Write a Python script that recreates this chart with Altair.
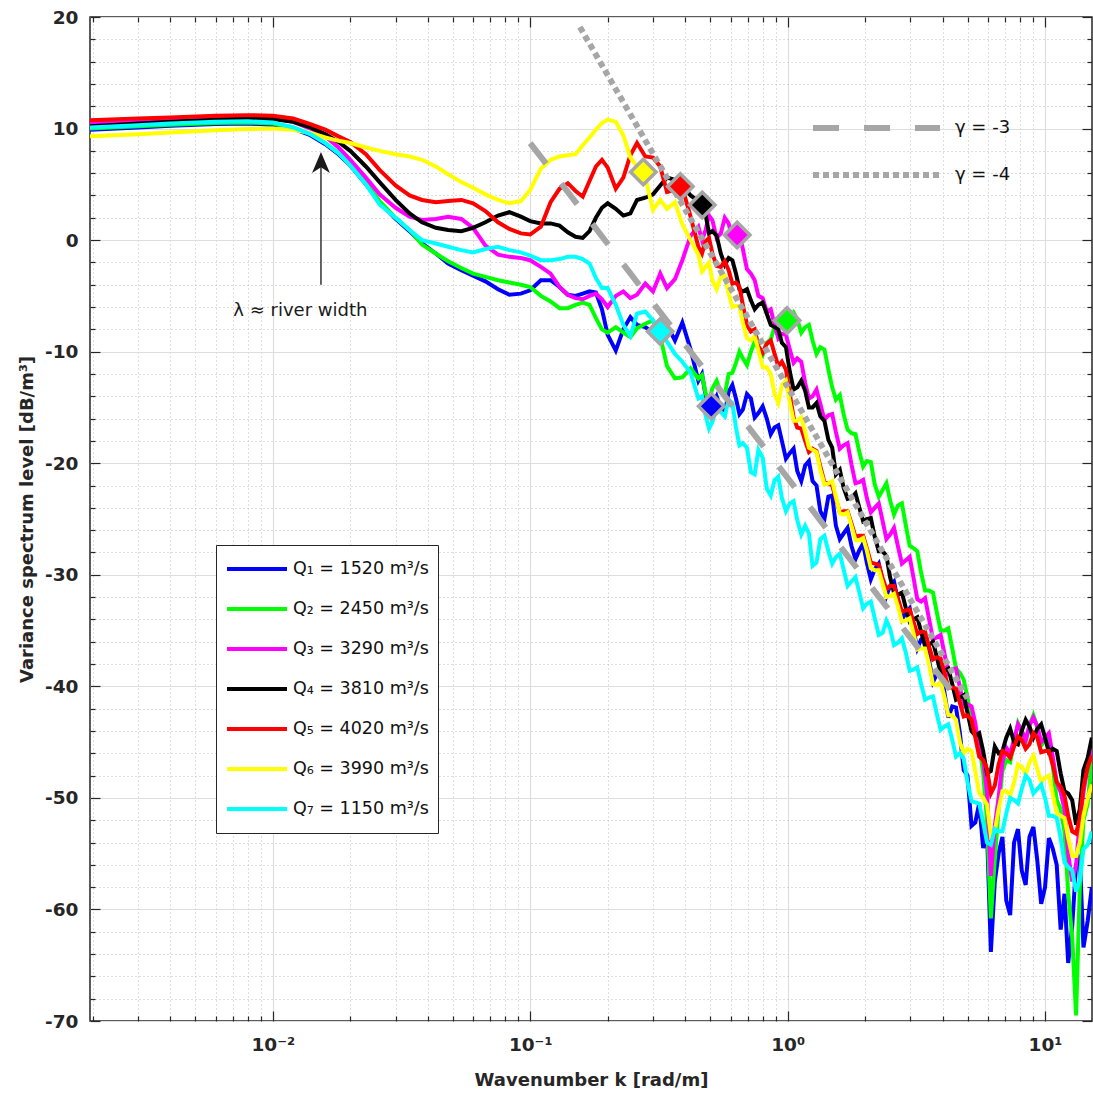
import altair as alt
import pandas as pd

FONT = "DejaVu Sans"

# ---------------- data ----------------
k_values = [
    0.00195, 0.003, 0.004, 0.006, 0.008, 0.01, 0.012, 0.014, 0.016, 0.018,
    0.02, 0.023, 0.026, 0.03, 0.034, 0.038, 0.043, 0.048, 0.054, 0.06,
    0.067, 0.075, 0.083, 0.092, 0.1, 0.11, 0.12, 0.13, 0.14, 0.15,
    0.16, 0.17, 0.18, 0.19,
    0.2, 0.215, 0.23, 0.245, 0.26, 0.28, 0.30, 0.32,
    0.34, 0.365, 0.39, 0.42, 0.45, 0.48, 0.51, 0.55,
    0.59, 0.63, 0.67, 0.72, 0.77, 0.83, 0.89, 0.95,
    1.02, 1.09, 1.17, 1.25, 1.34, 1.44, 1.54, 1.65,
    1.77, 1.90, 2.03, 2.18, 2.34, 2.5, 2.68, 2.88,
    3.08, 3.3, 3.54, 3.8, 4.07, 4.36, 4.67, 5.0,
    5.36, 5.75, 6.16, 6.6, 7.07, 7.58, 8.12, 8.7,
    9.33, 10.0, 10.7, 11.5, 12.3, 13.2, 14.1, 15.2,
]
# extra in-between wavenumbers for the noisy high-k part
k_fine = [
    0.465, 0.495, 0.53, 0.57, 0.61, 0.65, 0.695, 0.745, 0.80, 0.86,
    0.92, 0.985, 1.055, 1.13, 1.21, 1.295, 1.39, 1.49, 1.595, 1.71,
    1.835, 1.965, 2.105, 2.26, 2.42, 2.59, 2.78, 2.98, 3.19, 3.42,
    3.67, 3.93, 4.21, 4.51, 4.83, 5.18, 5.55, 5.95, 6.38, 6.83,
    7.32, 7.85, 8.41, 9.01, 9.66, 10.35, 11.1, 11.9, 12.75, 13.65,
    14.65,
]

series_names = [
    "Q\u2081 = 1520 m\u00b3/s",
    "Q\u2082 = 2450 m\u00b3/s",
    "Q\u2083 = 3290 m\u00b3/s",
    "Q\u2084 = 3810 m\u00b3/s",
    "Q\u2085 = 4020 m\u00b3/s",
    "Q\u2086 = 3990 m\u00b3/s",
    "Q\u2087 = 1150 m\u00b3/s",
]
series_colors = ["#0000ff", "#00ff00", "#ff00ff", "#000000", "#ff0000", "#ffff00", "#00ffff"]

q1_db = [
    9.9, 10.1, 10.25, 10.4, 10.45, 10.35, 10.0, 9.4, 8.6, 7.7,
    6.7, 5.0, 3.4, 1.9, 0.8, -0.3, -1.2, -2.1, -2.7, -3.2,
    -3.7, -4.4, -4.9, -4.8, -4.5, -3.6, -3.6, -4.2, -4.9, -5.0,
    -4.8, -4.6, -4.7, -6.2,
    -8.5, -9.9, -8.0, -6.9, -7.6, -7.8, -8.3, -7.8,
    -7.6, -9.0, -7.4, -9.8, -12.6, -13.9, -14.8, -15.1,
    -13.6, -14.2, -15.2, -14.2, -15.5, -16.0, -16.8, -18.0,
    -19.1, -20.7, -20.2, -21.6, -24.3, -23.0, -25.6, -26.3,
    -27.4, -27.8, -28.9, -29.5, -30.6, -31.0, -32.3, -33.4,
    -34.9, -35.8, -37.6, -38.9, -40.6, -41.8, -44.2, -48.0,
    -52.2, -54.5, -63.8, -55.0, -59.2, -54.0, -56.5, -53.5,
    -55.6, -58.0, -54.5, -61.8, -64.8, -56.0, -63.4, -58.0,
]
q1_fine = [
    -12.0, -15.3, -14.0, -15.6, -13.0, -15.6, -13.8, -15.9, -14.9, -17.4,
    -16.6, -19.6, -18.7, -21.6, -19.8, -22.0, -25.0, -22.9, -26.8, -25.8,
    -28.6, -27.2, -30.4, -29.0, -31.9, -30.6, -34.0, -33.0, -36.6, -35.5,
    -39.6, -38.6, -42.8, -41.9, -47.5, -52.5, -50.5, -53.0, -57.5, -53.5,
    -60.5, -52.8, -57.8, -52.6, -59.5, -53.6, -56.0, -58.6, -61.5, -55.4,
    -61.0,
]
q2_db = [
    10.0, 10.2, 10.35, 10.5, 10.55, 10.45, 10.1, 9.5, 8.7, 7.8,
    6.8, 5.1, 3.5, 2.0, 0.9, -0.4, -1.2, -1.9, -2.5, -3.0,
    -3.3, -3.6, -3.8, -4.0, -4.2, -5.0, -5.5, -6.1, -6.1, -5.8,
    -5.6, -5.8, -7.0, -8.0,
    -8.3, -7.8, -8.3, -8.7, -7.9, -7.5, -7.2, -8.6,
    -11.3, -12.4, -12.3, -11.5, -12.4, -13.7, -13.3, -13.6,
    -12.0, -11.0, -10.6, -10.0, -9.7, -9.2, -7.8, -7.3,
    -7.0, -7.1, -7.8, -9.0, -9.6, -11.6, -14.3, -15.6,
    -17.3, -19.0, -19.8, -21.9, -22.4, -23.3, -23.8, -25.6,
    -27.6, -29.8, -31.4, -33.4, -35.0, -36.6, -38.8, -41.0,
    -44.2, -47.8, -60.8, -51.0, -46.6, -45.0, -44.0, -43.5,
    -43.6, -44.8, -47.0, -51.0, -58.5, -69.5, -52.0, -46.5,
]
q2_fine = [
    -12.1, -14.4, -12.6, -13.9, -11.9, -10.0, -11.2, -9.1, -10.3, -8.9,
    -7.0, -7.9, -6.5, -8.3, -7.6, -10.2, -9.8, -13.2, -13.9, -17.0,
    -17.4, -20.3, -19.9, -23.0, -21.8, -24.6, -23.6, -27.4, -27.9, -31.4,
    -31.6, -35.0, -34.8, -38.4, -39.4, -43.4, -45.2, -52.0, -55.5, -47.6,
    -46.8, -43.3, -45.0, -42.6, -45.3, -44.6, -50.2, -53.0, -62.5, -58.0,
    -50.5,
]
q3_db = [
    10.55, 10.7, 10.85, 11.0, 11.05, 10.95, 10.6, 10.0, 9.3, 8.3,
    7.2, 5.6, 4.1, 2.9, 2.1, 1.8, 1.9, 2.1, 1.9, 1.1,
    -0.5, -1.3, -1.5, -1.6, -1.8, -2.4, -3.0, -4.2, -4.9, -5.2,
    -5.3, -5.0, -4.8, -5.3,
    -6.0, -5.0, -4.6, -5.2, -4.9, -3.9, -4.6, -3.0,
    -4.3, -3.5, -1.8, 0.4, 1.2, 0.9, 1.8, 0.6,
    1.5, 0.6, -0.8, -3.0, -5.0, -6.4, -7.6, -8.4,
    -9.8, -10.6, -12.8, -14.0, -14.7, -15.7, -17.2, -18.4,
    -20.1, -21.7, -23.1, -24.0, -25.2, -26.4, -27.4, -28.7,
    -30.2, -32.4, -33.9, -35.6, -37.1, -38.5, -40.1, -41.6,
    -43.3, -46.5, -57.0, -50.0, -45.5, -44.8, -44.0, -43.5,
    -43.6, -44.6, -46.2, -49.5, -55.0, -56.0, -49.5, -45.5,
]
q3_fine = [
    0.0, 2.2, 0.2, 2.0, 0.1, 0.6, -2.6, -3.6, -5.2, -6.2,
    -8.8, -8.5, -11.0, -10.9, -14.2, -13.4, -16.1, -15.6, -18.7, -18.2,
    -21.8, -21.5, -24.4, -23.6, -26.8, -25.8, -29.0, -28.4, -32.2, -32.1,
    -35.8, -35.4, -38.8, -38.4, -41.8, -41.8, -45.8, -49.5, -52.5, -46.8,
    -46.0, -43.4, -44.8, -42.8, -45.0, -44.2, -48.6, -51.0, -57.5, -52.0,
    -47.2,
]
q4_db = [
    10.2, 10.45, 10.6, 10.8, 10.9, 10.85, 10.6, 10.1, 9.5, 8.8,
    8.0, 6.6, 5.2, 3.6, 2.4, 1.6, 1.1, 0.9, 0.8, 1.1,
    1.6, 2.2, 2.5, 2.1, 1.7, 1.5, 1.5, 1.3, 0.7, 0.3,
    0.2, 0.8, 2.0, 2.9,
    3.3, 2.8, 2.2, 2.4, 3.6, 3.8, 4.1, 4.9,
    5.6, 5.4, 4.9, 4.0, 3.5, 2.3, 0.8, -1.2,
    -1.6, -3.0, -4.6, -5.4, -5.8, -6.6, -7.8, -9.2,
    -11.8, -13.2, -13.5, -15.0, -15.8, -17.9, -21.0, -22.2,
    -23.1, -24.0, -25.0, -26.6, -27.9, -30.2, -31.8, -33.0,
    -34.0, -35.1, -36.3, -37.4, -38.6, -39.8, -41.0, -42.4,
    -44.4, -45.8, -47.6, -46.0, -44.6, -45.0, -44.0, -43.6,
    -43.8, -44.6, -45.6, -47.8, -49.6, -52.4, -47.5, -44.6,
]
q4_fine = [
    3.6, 0.6, 0.4, -2.2, -1.8, -4.4, -4.4, -6.2, -5.6, -7.6,
    -8.0, -9.6, -13.4, -12.6, -15.0, -14.6, -16.2, -18.6, -20.6, -23.2,
    -22.7, -25.2, -24.9, -27.9, -28.3, -31.6, -31.6, -34.2, -33.8, -36.4,
    -36.0, -38.8, -38.4, -41.2, -40.8, -44.0, -44.2, -47.8, -45.4, -45.8,
    -43.8, -45.2, -43.0, -44.6, -43.4, -45.9, -45.8, -49.4, -50.2, -51.0,
    -46.4,
]
q5_db = [
    10.75, 10.9, 11.0, 11.15, 11.2, 11.15, 10.9, 10.4, 9.9, 9.3,
    8.8, 7.7, 6.3, 4.9, 4.0, 3.6, 3.4, 3.5, 3.6, 3.3,
    2.6, 1.6, 1.0, 0.6, 0.5, 1.2, 3.4, 4.6, 5.1, 4.4,
    3.9, 5.3, 6.6, 7.2,
    6.5, 4.6, 5.6, 7.6, 8.7, 7.5, 7.4, 6.6,
    4.3, 4.5, 4.7, 2.1, -0.6, -0.1, -1.2, -2.4,
    -2.7, -3.8, -5.8, -8.2, -9.5, -9.3, -10.2, -10.9,
    -13.8, -16.8, -18.0, -18.7, -20.3, -21.8, -23.2, -24.3,
    -25.4, -26.5, -27.6, -29.0, -30.3, -31.0, -32.1, -33.2,
    -34.2, -35.1, -36.4, -37.4, -38.8, -40.1, -41.5, -42.6,
    -44.6, -46.6, -49.6, -47.0, -46.0, -45.4, -44.8, -45.2,
    -44.6, -45.8, -47.0, -49.0, -51.6, -53.2, -49.0, -46.2,
]
q5_fine = [
    -1.2, 0.2, -2.3, -1.9, -3.9, -4.2, -7.6, -8.0, -10.1, -9.0,
    -11.3, -11.6, -15.9, -16.9, -19.0, -18.9, -21.7, -22.0, -24.4, -24.3,
    -26.6, -26.5, -28.9, -29.1, -31.3, -31.0, -33.3, -33.1, -35.3, -35.1,
    -37.6, -37.5, -40.1, -40.2, -42.7, -43.0, -46.3, -47.4, -48.9, -45.8,
    -46.4, -44.5, -45.6, -44.2, -45.9, -45.8, -48.6, -49.8, -53.0, -51.8,
    -47.2,
]
q6_db = [
    9.3, 9.5, 9.65, 9.85, 9.95, 10.0, 9.9, 9.6, 9.2, 8.9,
    8.7, 8.3, 8.0, 7.7, 7.5, 7.2, 6.6, 5.9, 5.2, 4.7,
    4.1, 3.6, 3.3, 3.5, 4.5, 6.4, 7.2, 7.5, 7.6, 7.7,
    8.5, 9.2, 9.9, 10.5,
    10.8, 10.6, 9.4, 7.4, 6.6, 5.6, 2.7, 3.6,
    2.8, 3.4, 1.4, 0.0, -1.3, -2.4, -3.6, -3.3,
    -4.8, -5.9, -7.4, -9.0, -9.9, -11.4, -13.8, -13.0,
    -14.6, -16.2, -17.2, -18.8, -20.6, -21.8, -23.0, -24.6,
    -25.6, -26.9, -27.8, -29.6, -30.8, -31.9, -32.8, -34.1,
    -35.2, -36.6, -38.0, -39.9, -41.0, -42.6, -45.0, -45.6,
    -47.6, -50.0, -53.4, -51.0, -49.4, -48.6, -47.2, -46.8,
    -47.4, -48.2, -49.6, -51.6, -53.6, -55.2, -51.6, -48.8,
]
q6_fine = [
    -2.8, -2.0, -4.4, -3.2, -6.0, -5.9, -8.8, -8.6, -11.4, -12.0,
    -14.6, -12.6, -16.2, -15.9, -18.6, -19.0, -21.9, -21.6, -24.5, -24.4,
    -26.9, -26.7, -29.4, -29.6, -32.0, -31.7, -34.2, -33.9, -36.7, -36.6,
    -39.8, -39.6, -42.6, -43.0, -46.0, -45.8, -49.6, -50.6, -53.0, -49.4,
    -49.8, -47.0, -47.9, -46.2, -48.6, -48.0, -51.4, -51.8, -55.2, -54.0,
    -50.0,
]
q7_db = [
    10.1, 10.3, 10.45, 10.6, 10.65, 10.55, 10.1, 9.5, 8.7, 7.8,
    6.7, 5.0, 3.2, 2.0, 0.9, 0.0, -0.3, -0.6, -0.9, -1.1,
    -0.8, -0.6, -0.9, -1.1, -1.4, -1.8, -1.8, -1.7, -1.5, -1.5,
    -1.7, -2.1, -3.4, -4.3,
    -4.3, -5.8, -7.6, -8.6, -6.6, -6.4, -7.2, -8.1,
    -9.1, -10.2, -10.9, -11.9, -14.2, -15.7, -16.3, -15.4,
    -14.3, -16.8, -18.2, -20.8, -18.8, -22.3, -21.5, -23.1,
    -23.6, -25.1, -25.6, -29.2, -26.8, -27.9, -28.4, -29.5,
    -30.6, -31.6, -32.6, -33.9, -35.2, -34.8, -36.1, -37.0,
    -38.5, -39.8, -41.0, -42.5, -43.6, -44.8, -46.0, -48.6,
    -50.4, -52.2, -54.2, -53.0, -51.4, -50.2, -49.2, -48.4,
    -49.2, -50.0, -51.6, -53.6, -56.2, -58.4, -54.6, -53.0,
]
q7_fine = [
    -14.0, -16.9, -15.0, -15.8, -14.6, -18.4, -18.6, -21.0, -19.5, -22.9,
    -21.2, -24.3, -23.4, -26.4, -26.3, -28.9, -26.5, -29.0, -28.1, -31.0,
    -30.2, -33.0, -32.4, -35.4, -34.1, -36.3, -35.7, -38.6, -38.3, -41.2,
    -40.9, -43.9, -43.4, -46.3, -46.5, -50.3, -50.5, -54.0, -52.8, -53.0,
    -50.0, -50.5, -48.0, -49.6, -48.8, -51.6, -51.8, -55.8, -56.5, -57.4,
    -54.2,
]
series_values = [q1_db, q2_db, q3_db, q4_db, q5_db, q6_db, q7_db]
series_fine = [q1_fine, q2_fine, q3_fine, q4_fine, q5_fine, q6_fine, q7_fine]

# transition markers (diamonds), one per series
marker_k = [0.505, 0.995, 0.637, 0.466, 0.383, 0.275, 0.32]
marker_db = [-14.9, -7.2, 0.45, 3.15, 4.8, 6.1, -8.2]

# reference slopes
gamma_names = ["\u03b3 = -3", "\u03b3 = -4"]
gamma_k = [[0.1, 4.7], [0.156, 5.0]]
gamma_db = [[8.7, -41.5], [19.1, -41.1]]

# axis ticks
x_tick_values = [0.01, 0.1, 1, 10]
x_tick_labels = ["10\u207b\u00b2", "10\u207b\u00b9", "10\u2070", "10\u00b9"]
x_minor_values = [0.002, 0.003, 0.004, 0.005, 0.006, 0.007, 0.008, 0.009,
                  0.02, 0.03, 0.04, 0.05, 0.06, 0.07, 0.08, 0.09,
                  0.2, 0.3, 0.4, 0.5, 0.6, 0.7, 0.8, 0.9,
                  2, 3, 4, 5, 6, 7, 8, 9]
y_tick_values = [-70, -60, -50, -40, -30, -20, -10, 0, 10, 20]
y_minor_values = [-68, -66, -64, -62, -58, -56, -54, -52, -48, -46, -44, -42,
                  -38, -36, -34, -32, -28, -26, -24, -22, -18, -16, -14, -12,
                  -8, -6, -4, -2, 2, 4, 6, 8, 12, 14, 16, 18]

# annotation
annot_text = ["\u03bb \u2248 river width"]
annot_k = [0.00703]
annot_db = [-6.35]
arrow_k = [0.01539]
arrow_db_from = [-4.0]
arrow_db_to = [7.0]
arrow_head_db = [6.96]

X_DOMAIN = [0.00195, 15.22]
Y_DOMAIN = [-70, 20]
W, H = 1002, 1004

# ---------------- frames ----------------
rows = []
for name, vals, fine in zip(series_names, series_values, series_fine):
    assert len(vals) == len(k_values), name
    assert len(fine) == len(k_fine), name
    for kk, v in zip(k_values, vals):
        rows.append({"k": kk, "db": v, "series": name})
    for kk, v in zip(k_fine, fine):
        rows.append({"k": kk, "db": v, "series": name})
df = pd.DataFrame(rows)

mdf = pd.DataFrame({"k": marker_k, "db": marker_db, "series": series_names})

grows = []
for g, ks, ds in zip(gamma_names, gamma_k, gamma_db):
    for kk, d in zip(ks, ds):
        grows.append({"k": kk, "db": d, "g": g})
gdf = pd.DataFrame(grows)

adf = pd.DataFrame({"k": annot_k, "db": annot_db, "t": annot_text})
arr = pd.DataFrame({"k": arrow_k, "db": arrow_db_from, "db2": arrow_db_to, "hd": arrow_head_db})

xscale = alt.Scale(type="log", domain=X_DOMAIN, nice=False)
yscale = alt.Scale(domain=Y_DOMAIN, nice=False, zero=False)

label_expr = " : ".join(
    f"datum.value == {v} ? '{lab}'" for v, lab in zip(x_tick_values, x_tick_labels)
) + " : ''"

major_x = alt.Axis(
    orient="bottom", values=x_tick_values, labelExpr=label_expr, grid=True,
    gridColor="#dedede", gridWidth=1.2, ticks=False, domain=False,
    labelFont=FONT, labelFontSize=18.5, labelFontWeight="bold", labelColor="#262626",
    labelPadding=14, title="Wavenumber  k  [rad/m]", titleFont=FONT, titleFontSize=18,
    titleFontWeight="bold", titleColor="#262626", titleY=50,
)
major_y = alt.Axis(
    orient="left", values=y_tick_values, labelExpr="datum.value + ''", grid=True,
    gridColor="#dedede", gridWidth=1.2, ticks=False, domain=False,
    labelFont=FONT, labelFontSize=18.5, labelFontWeight="bold", labelColor="#262626",
    labelPadding=12, title="Variance spectrum level  [dB/m\u00b3]", titleFont=FONT,
    titleFontSize=18, titleFontWeight="bold", titleColor="#262626", titleX=-54, titleY=502,
)
minor_x = alt.Axis(
    orient="top", values=x_minor_values, labels=False, ticks=False, domain=False,
    grid=True, gridColor="#bcbcbc", gridDash=[1, 3], gridWidth=1, title=None,
)
minor_y = alt.Axis(
    orient="right", values=y_minor_values, labels=False, ticks=False, domain=False,
    grid=True, gridColor="#bcbcbc", gridDash=[1, 3], gridWidth=1, title=None,
)


def tick_axis(orient, values, size, offset):
    # tick-only axis moved onto the opposite edge so its ticks point inward
    return alt.Axis(
        orient=orient, values=values, labels=False, grid=False, domain=False,
        ticks=True, tickSize=size, tickWidth=1.2, tickColor="#262626",
        offset=offset, title=None,
    )


lines = alt.Chart(df).mark_line(strokeWidth=4, clip=True).encode(
    x=alt.X("k:Q", scale=xscale, axis=major_x),
    y=alt.Y("db:Q", scale=yscale, axis=major_y),
    color=alt.Color(
        "series:N",
        scale=alt.Scale(domain=series_names, range=series_colors),
        legend=alt.Legend(
            title=None, orient="none", legendX=126, legendY=528,
            symbolType="stroke", symbolSize=3600, symbolStrokeWidth=4,
            labelFont=FONT, labelFontSize=17.5, labelColor="#111111", labelOffset=4,
            labelLimit=0, padding=9, clipHeight=30, rowPadding=10,
            strokeColor="#262626", fillColor="white",
        ),
    ),
)

gamma = alt.Chart(gdf).mark_line(strokeWidth=6, color="#a6a6a6", clip=True).encode(
    x=alt.X("k:Q", scale=xscale, axis=minor_x),
    y=alt.Y("db:Q", scale=yscale, axis=minor_y),
    strokeDash=alt.StrokeDash(
        "g:N",
        scale=alt.Scale(domain=gamma_names, range=[[26, 25], [6, 4]]),
        legend=alt.Legend(
            title=None, orient="none", legendX=720, legendY=101,
            symbolType="stroke", symbolSize=16129, symbolStrokeWidth=6,
            symbolStrokeColor="#a6a6a6", labelFont=FONT, labelFontSize=18,
            labelColor="#111111", labelOffset=12, clipHeight=20, rowPadding=27,
            padding=0,
        ),
    ),
)

markers = alt.Chart(mdf).mark_point(
    shape="diamond", filled=True, size=650, stroke="#a6a6a6", strokeWidth=3.5, opacity=1
).encode(
    x=alt.X("k:Q", scale=xscale, axis=tick_axis("bottom", x_tick_values, 10, -H)),
    y=alt.Y("db:Q", scale=yscale, axis=tick_axis("left", y_tick_values, 10, -W)),
    fill=alt.Fill("series:N", scale=alt.Scale(domain=series_names, range=series_colors), legend=None),
)

annot = alt.Chart(adf).mark_text(
    align="left", baseline="middle", font=FONT, fontSize=18, color="#1a1a1a"
).encode(
    x=alt.X("k:Q", scale=xscale, axis=tick_axis("bottom", x_minor_values, 5, -H)),
    y=alt.Y("db:Q", scale=yscale, axis=tick_axis("left", y_minor_values, 5, -W)),
    text="t:N",
)

shaft = alt.Chart(arr).mark_rule(color="#404040", strokeWidth=1.6).encode(
    x=alt.X("k:Q", scale=xscale, axis=tick_axis("top", x_tick_values, 10, -H)),
    y=alt.Y("db:Q", scale=yscale, axis=tick_axis("right", y_tick_values, 10, -W)),
    y2="db2:Q",
)

head = alt.Chart(arr).mark_point(
    shape="M0,-1L0.85,1L0,0.45L-0.85,1Z", filled=True, size=441, color="#1a1a1a", opacity=1
).encode(
    x=alt.X("k:Q", scale=xscale, axis=tick_axis("top", x_minor_values, 5, -H)),
    y=alt.Y("hd:Q", scale=yscale, axis=tick_axis("right", y_minor_values, 5, -W)),
)

chart = alt.layer(lines, gamma, markers, annot, shaft, head).resolve_axis(
    x="independent", y="independent"
).properties(
    width=W, height=H,
    autosize=alt.AutoSizeParams(type="none"),
    padding={"left": 90, "top": 17, "right": 1, "bottom": 73},
).configure(background="white").configure_view(stroke="#262626", strokeWidth=1.5)

chart.save("out.html", embed_options={"renderer": "svg", "actions": False})
